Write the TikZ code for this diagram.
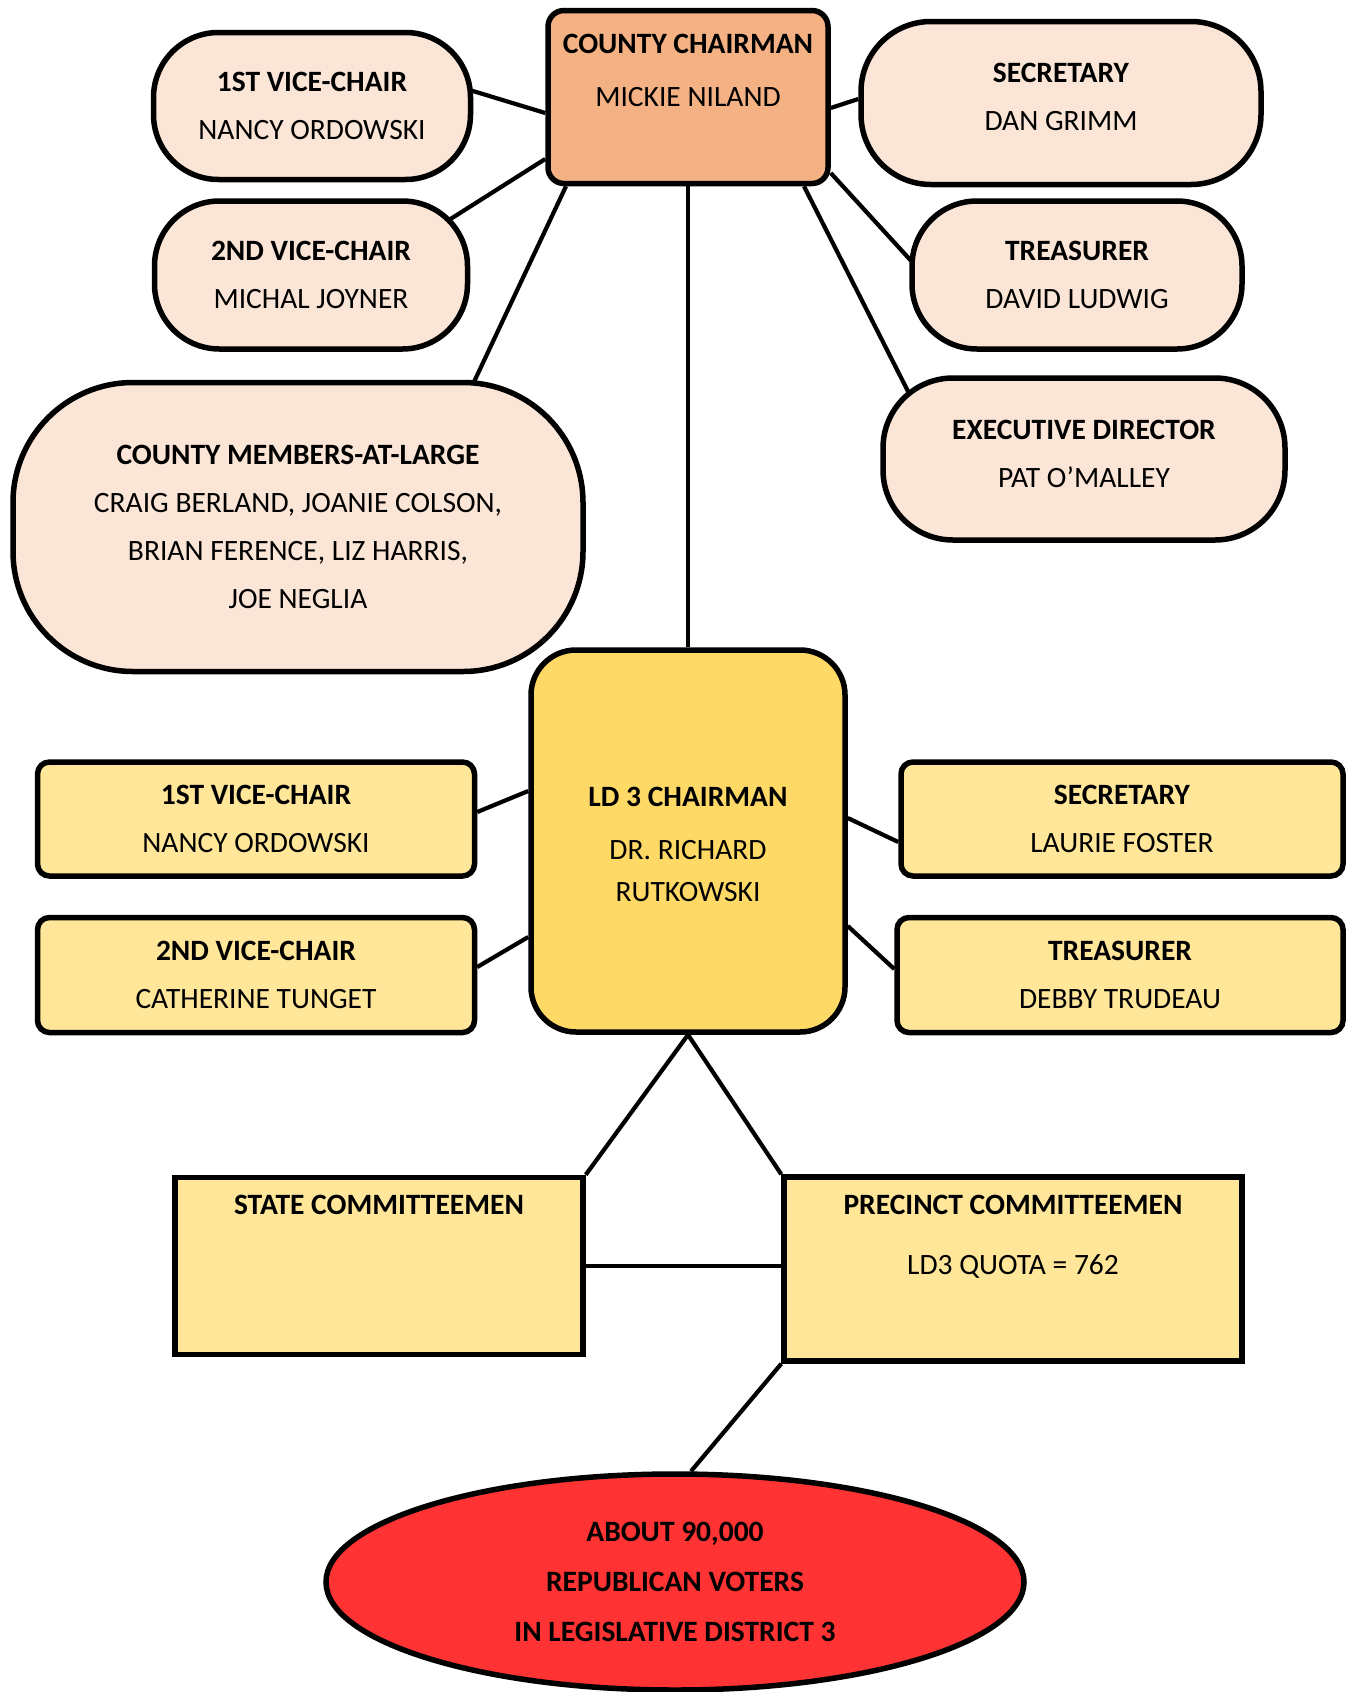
\documentclass[tikz,border=0pt]{standalone}
\usepackage{fontspec}
\setmainfont{Carlito}
\usepackage{tikz}
\usetikzlibrary{positioning}
\usetikzlibrary{shapes.geometric}
\usetikzlibrary{backgrounds}
\definecolor{peach}{HTML}{FBE5D6}
\definecolor{chairorange}{HTML}{F4B183}
\definecolor{ldgold}{HTML}{FFD966}
\definecolor{ldyellow}{HTML}{FFE699}
\definecolor{voterred}{HTML}{FF3333}
\tikzset{every node/.style={font=\fontsize{29.5}{48}\selectfont, align=center}}
\tikzset{county/.style={draw, line width=5.5pt, fill=peach, rounded corners=#1}}
\tikzset{ldbox/.style={draw, line width=5.5pt, fill=ldyellow, rounded corners=#1}}
\tikzset{conn/.style={line width=4.2pt}}

\begin{document}
\begin{tikzpicture}[x=1pt,y=-1pt]
\useasboundingbox (0,0) rectangle (1349,1692);
\node[county=16pt, fill=chairorange, minimum width=280pt, minimum height=173pt] (cc) at (688,97) {\textbf{COUNTY CHAIRMAN}\\[5pt] MICKIE NILAND\\[6pt]\mbox{}};
\node[county=65pt, minimum width=317pt, minimum height=147pt] (vc1) at (312,106) {\textbf{1ST VICE-CHAIR}\\ NANCY ORDOWSKI};
\node[county=65pt, minimum width=313pt, minimum height=148pt] (vc2) at (311,275) {\textbf{2ND VICE-CHAIR}\\ MICHAL JOYNER};
\node[county=120pt, minimum width=570pt, minimum height=289pt] (members) at (298,527) {\textbf{COUNTY MEMBERS-AT-LARGE}\\ CRAIG BERLAND, JOANIE COLSON,\\ BRIAN FERENCE, LIZ HARRIS,\\ JOE NEGLIA};
\node[county=70pt, minimum width=400pt, minimum height=163pt] (sec) at (1061,103) {\textbf{SECRETARY}\\ DAN GRIMM\\[-35pt]\mbox{}};
\node[county=65pt, minimum width=330pt, minimum height=148pt] (treas) at (1077,275) {\textbf{TREASURER}\\ DAVID LUDWIG};
\node[county=70pt, minimum width=402pt, minimum height=162pt] (exec) at (1084,459) {\textbf{EXECUTIVE DIRECTOR}\\ PAT O’MALLEY\\[-38pt]\mbox{}};

\node[ldbox=45pt, fill=ldgold, minimum width=314pt, minimum height=382pt] (ld3) at (688,841) {\mbox{}\\[-21pt]\textbf{LD 3 CHAIRMAN}\\[5pt] DR. RICHARD\\[-6pt] RUTKOWSKI};
\node[ldbox=12pt, minimum width=437pt, minimum height=114pt] (lvc1) at (256,819) {\textbf{1ST VICE-CHAIR}\\ NANCY ORDOWSKI};
\node[ldbox=12pt, minimum width=437pt, minimum height=115pt] (lvc2) at (256,975) {\textbf{2ND VICE-CHAIR}\\ CATHERINE TUNGET};
\node[ldbox=12pt, minimum width=442pt, minimum height=114pt] (lsec) at (1122,819) {\textbf{SECRETARY}\\ LAURIE FOSTER};
\node[ldbox=12pt, minimum width=446pt, minimum height=115pt] (ltreas) at (1120,975) {\textbf{TREASURER}\\ DEBBY TRUDEAU};

\node[ldbox=0pt, minimum width=408pt, minimum height=177pt] (state) at (379,1266) {\textbf{STATE COMMITTEEMEN}\\[74pt]\mbox{}};
\node[ldbox=0pt, minimum width=458pt, minimum height=184pt] (prec) at (1013,1269) {\textbf{PRECINCT COMMITTEEMEN}\\[12pt] LD3 QUOTA = 762\\[20pt]\mbox{}};
\node[ellipse, draw, line width=5.5pt, fill=voterred, minimum width=698pt, minimum height=216pt] (voters) at (675,1582) {\textbf{ABOUT 90,000}\\[2pt] \textbf{REPUBLICAN VOTERS}\\[2pt] \textbf{IN LEGISLATIVE DISTRICT 3}};

\begin{scope}[on background layer]
\draw[conn] ([xshift=128pt,yshift=25pt]vc1.center) -- ([yshift=-16pt]cc.west);
\draw[conn] ([xshift=119pt,yshift=43pt]vc2.center) -- ([yshift=-62pt]cc.west);
\draw[conn] ([xshift=167pt,yshift=126pt]members.center) -- ([xshift=-122pt]cc.south);
\draw[conn] (cc.south) -- (ld3.north);
\draw[conn] ([yshift=-11pt]cc.east) -- ([yshift=4pt]sec.west);
\draw[conn] ([yshift=-76pt]cc.east) -- ([xshift=-152pt,yshift=-1pt]treas.center);
\draw[conn] ([xshift=116pt]cc.south) -- ([xshift=-164pt,yshift=44pt]exec.center);
\draw[conn] ([yshift=7pt]lvc1.east) -- ([yshift=50pt]ld3.west);
\draw[conn] ([yshift=8pt]lvc2.east) -- ([yshift=-96pt]ld3.west);
\draw[conn] ([yshift=23pt]ld3.east) -- ([yshift=-23pt]lsec.west);
\draw[conn] ([yshift=-85pt]ld3.east) -- ([yshift=6pt]ltreas.west);
\draw[conn] (ld3.south) -- (state.north east);
\draw[conn] (ld3.south) -- (prec.north west);
\draw[conn] (state.east) -- (state.east -| prec.west);
\draw[conn] (prec.south west) -- ([xshift=16pt]voters.north);
\end{scope}
\end{tikzpicture}
\end{document}
